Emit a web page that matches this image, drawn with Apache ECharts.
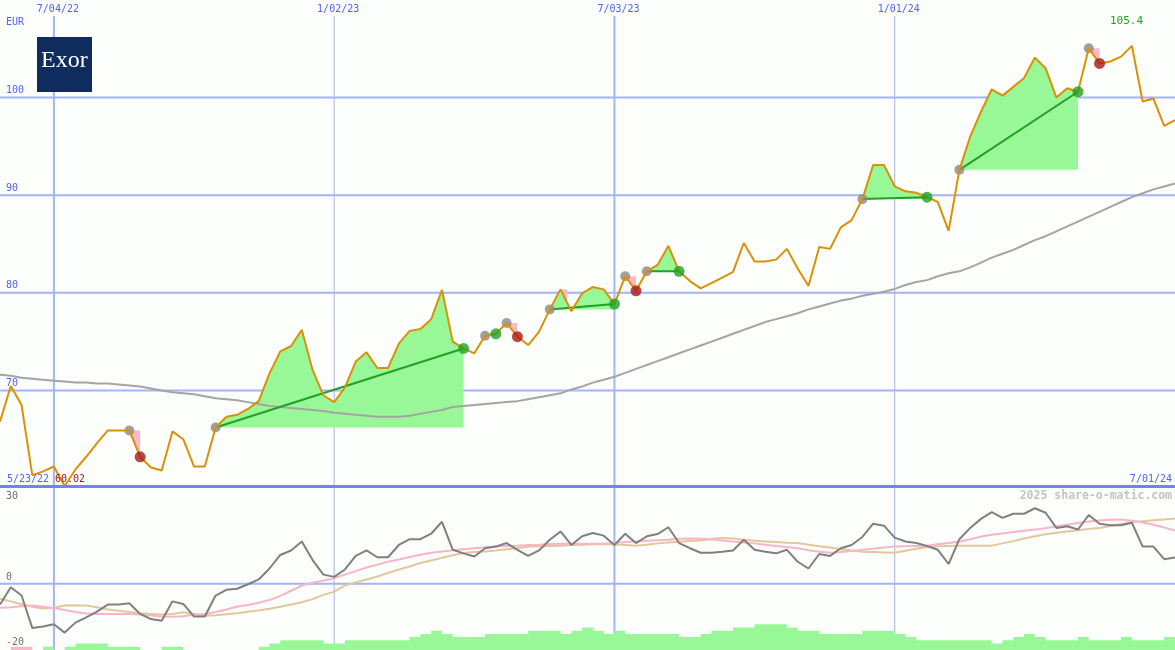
<!DOCTYPE html>
<html><head><meta charset="utf-8">
<script src="https://cdn.jsdelivr.net/npm/echarts@6/dist/echarts.min.js"></script>
<style>html,body{margin:0;padding:0;background:#fcfefc}#c{width:1175px;height:650px}</style>
</head><body><div id="c"></div>
<script>
// ---- data (weekly, week 0 = 5/30/22, week 109 = 7/01/24) ----
const weekFirst = 0, weekLast = 109;
const dateTickWeeks = [5, 31, 57, 83];
const dateTickLabels = ['7/04/22', '1/02/23', '7/03/23', '1/01/24'];
const dateTickMajor = [true, false, true, false];
const priceTicks = [70, 80, 90, 100];
const lowerTicks = [30, 0, -20];
const currency = 'EUR';
const startLabel = '5/23/22', endLabel = '7/01/24';
const lowLabel = '60.02', highLabel = '105.4';

const price = [66.8,70.45,68.5,61.3,61.7,62.2,60.2,61.9,63.2,64.6,
 65.9,65.9,65.9,63.2,62.1,61.8,65.8,65.0,62.2,62.2,
 66.2,67.3,67.5,68.1,68.9,71.75,74.0,74.55,76.2,72.1,
 69.5,68.8,70.3,72.95,73.9,72.3,72.3,74.8,76.1,76.3,
 77.3,80.3,75.0,74.3,73.8,75.6,75.8,76.9,75.5,74.65,
 76.0,78.3,80.35,78.1,79.95,80.6,80.35,78.85,81.7,80.2,
 82.2,82.85,84.8,82.2,81.2,80.45,81.0,81.55,82.15,85.1,
 83.2,83.2,83.4,84.5,82.5,80.7,84.7,84.5,86.7,87.45,
 89.6,93.1,93.1,90.9,90.4,90.25,89.8,89.3,86.35,92.6,
 96.0,98.55,100.85,100.2,101.1,102.0,104.1,103.0,100.0,100.95,
 100.6,105.05,103.5,103.7,104.2,105.3,99.6,99.9,97.1,97.7];

const ma200 = [71.6,71.5,71.3,71.2,71.1,71.0,70.9,70.8,70.8,70.7,
 70.7,70.6,70.5,70.4,70.2,70.0,69.8,69.7,69.6,69.4,
 69.2,69.1,69.0,68.8,68.6,68.4,68.3,68.2,68.1,68.0,
 67.9,67.7,67.6,67.5,67.4,67.3,67.3,67.3,67.4,67.6,
 67.8,68.0,68.3,68.4,68.5,68.6,68.7,68.8,68.9,69.1,
 69.3,69.5,69.7,70.1,70.4,70.8,71.1,71.4,71.8,72.2,
 72.6,73.0,73.4,73.8,74.2,74.6,75.0,75.4,75.8,76.2,
 76.6,77.0,77.3,77.6,77.9,78.3,78.6,78.9,79.2,79.4,
 79.7,79.9,80.1,80.4,80.8,81.1,81.3,81.7,82.0,82.2,
 82.6,83.1,83.6,84.0,84.4,84.9,85.4,85.8,86.3,86.8,
 87.3,87.8,88.3,88.8,89.3,89.8,90.2,90.6,90.9,91.2];

const momentum = [-6.5,-1.1,-3.7,-13.8,-13.3,-12.6,-15.2,-12.1,-10.5,-8.7,
 -6.5,-6.5,-6.1,-9.4,-11.0,-11.5,-5.5,-6.3,-10.2,-10.2,
 -3.7,-1.9,-1.6,-0.2,1.3,4.7,8.9,10.3,13.1,7.3,
 2.8,2.1,4.4,8.6,10.3,8.2,8.2,12.0,13.8,13.8,
 15.5,19.2,10.5,9.4,8.4,11.0,11.5,12.6,10.5,8.6,
 10.3,13.6,16.2,12.0,14.7,15.7,14.9,12.0,15.5,12.6,
 14.7,15.4,17.5,12.6,11.0,9.6,9.6,9.9,10.3,13.6,
 10.5,9.9,9.4,10.5,6.8,4.7,9.2,8.6,11.0,12.0,
 14.5,18.6,18.0,14.3,13.1,12.6,11.7,10.5,6.1,13.8,
 17.3,20.1,22.2,20.4,21.7,21.7,23.4,22.0,17.3,17.8,
 16.8,21.3,18.6,18.1,18.1,18.9,11.5,11.5,7.6,8.1];

const avgFast = [-7.5,-7.3,-7.0,-6.8,-7.2,-7.6,-8.2,-8.8,-9.3,-9.4,
 -9.4,-9.4,-9.4,-9.6,-9.9,-10.2,-10.3,-10.1,-9.6,-9.4,
 -8.8,-8.0,-7.1,-6.6,-5.9,-5.1,-3.8,-2.2,-0.6,0.3,
 1.0,1.7,2.8,3.9,5.0,5.9,6.8,7.5,8.3,9.0,
 9.6,10.0,10.4,10.7,11.0,11.3,11.5,11.7,11.8,12.0,
 12.1,12.3,12.4,12.4,12.4,12.4,12.4,12.6,12.9,13.1,
 13.3,13.5,13.6,13.9,14.0,13.9,13.7,13.4,13.1,12.8,
 12.5,12.1,11.7,11.4,11.0,10.4,9.9,9.6,9.8,10.1,
 10.5,10.8,11.2,11.5,11.6,11.7,11.8,12.2,12.6,13.1,
 13.8,14.6,15.2,15.6,16.0,16.4,16.8,17.2,17.8,18.3,
 18.8,19.3,19.6,19.8,19.9,19.5,19.0,18.3,17.4,16.5];

const avgSlow = [-4.7,-5.5,-6.4,-7.2,-7.7,-7.5,-6.8,-6.8,-6.8,-7.3,
 -8.0,-8.4,-8.8,-9.2,-9.4,-9.6,-9.4,-8.9,-9.4,-10.0,
 -9.8,-9.5,-9.2,-8.7,-8.3,-7.8,-7.2,-6.5,-5.8,-4.8,
 -3.5,-2.5,-0.6,0.4,1.3,2.2,3.3,4.4,5.3,6.4,
 7.2,8.0,8.8,9.5,9.8,10.0,10.3,10.7,11.0,11.5,
 11.6,11.7,11.8,12.0,12.1,12.2,12.3,12.2,12.0,11.8,
 12.1,12.5,12.8,13.0,13.2,13.4,13.9,14.2,14.0,13.6,
 13.3,13.1,12.9,12.7,12.6,12.1,11.6,11.2,10.7,10.3,
 9.9,9.8,9.7,9.6,10.2,10.8,11.4,11.6,11.7,11.8,
 11.8,11.8,11.8,12.5,13.2,14.0,14.7,15.3,15.8,16.2,
 16.6,17.0,17.3,17.9,18.5,19.1,19.4,19.7,19.9,20.2];

const barsUp = [0,0,0,0,1,0,1,2,2,2, 1,1,1,0,0,1,1,0,0,0,
 0,0,0,0,1,2,3,3,3,3, 2,2,3,3,3,3,3,3,4,5,
 6,5,4,4,4,5,5,5,5,6, 6,6,5,6,7,6,5,6,5,5,
 5,5,5,4,4,5,6,6,7,7, 8,8,8,7,6,6,5,5,5,5,
 6,6,6,5,4,3,3,3,3,3, 3,3,2,3,4,5,4,3,3,3,
 4,3,3,3,4,3,3,3,4,4];
const barsDown = [0,1,1,0,0,0,0,0,0,0, 0,0,0,0,0,0,0,0,0,0,
 0,0,0,0,0,0,0,0,0,0, 0,0,0,0,0,0,0,0,0,0,
 0,0,0,0,0,0,0,0,0,0, 0,0,0,0,0,0,0,0,0,0,
 0,0,0,0,0,0,0,0,0,0, 0,0,0,0,0,0,0,0,0,0,
 0,0,0,0,0,0,0,0,0,0, 0,0,0,0,0,0,0,0,0,0,
 0,0,0,0,0,0,0,0,0,0];

const tradeEntry = [12, 20, 45, 47, 51, 58, 60, 80, 89, 101];
const tradeExit  = [13, 43, 46, 48, 57, 59, 63, 86, 100, 102];
const tradeWin   = [false, true, true, false, true, false, true, true, true, false];
// intermediate drawdown warnings inside a trade: peak week and length (weeks)
const dropPeak = [52];
const dropSpan = [0.6];

// ---- styles ----
const C = {
  bg:'#fcfefc', grid:'#a4b4f4', gridMinor:'#aab2e4', border:'#7282f0', label:'#5262f0',
  price:'#dc9008', ma:'#a4a4a4', fill:'#98f898', pink:'#f8b8c8', win:'#22a022',
  loss:'#a81818', entry:'#888888', mom:'#808080', fast:'#f8b4c8', slow:'#e2c898',
  lowerLabel:'#707070', mark:'#c4c4c4'
};
const MONO = '"DejaVu Sans Mono", monospace';
const idx = a => a.map((_, i) => i);
const pairs = a => a.map((v, i) => [i, v]);
const priceAt = x => { const i = Math.floor(x), t = x - i; return price[i] + (price[i + 1] - price[i]) * t; };

const option = {
  animation: false,
  backgroundColor: C.bg,
  grid: [
    {left: 0, right: 0, top: -1, height: 489},
    {left: 0, right: 0, top: 487, height: 163}
  ],
  xAxis: [
    {type: 'value', gridIndex: 0, min: weekFirst, max: weekLast, show: false},
    {type: 'value', gridIndex: 1, min: weekFirst, max: weekLast, show: false}
  ],
  yAxis: [
    {type: 'value', gridIndex: 0, min: 60, max: 110, show: false},
    {type: 'value', gridIndex: 1, min: -20.6, max: 30, show: false},
    {type: 'value', gridIndex: 1, min: 0, max: 50.6, show: false}
  ],
  series: [
    { // horizontal price grid + labels
      type: 'custom', xAxisIndex: 0, yAxisIndex: 0, z: 0, silent: true, clip: false,
      data: idx(priceTicks),
      renderItem(params, api) {
        const v = priceTicks[params.dataIndex];
        const a = api.coord([weekFirst, v]), b = api.coord([weekLast, v]);
        return {type: 'group', children: [
          {type: 'line', shape: {x1: a[0], y1: a[1], x2: b[0], y2: b[1]}, style: {stroke: C.grid, lineWidth: 2}},
          {type: 'text', x: 6, y: a[1] - 2, style: {text: String(v), fill: C.label, font: '10px ' + MONO, align: 'left', verticalAlign: 'bottom'}}
        ]};
      }
    },
    { // vertical date grid (upper)
      type: 'custom', xAxisIndex: 0, yAxisIndex: 0, z: 0, silent: true, clip: false,
      data: idx(dateTickWeeks),
      renderItem(params, api) {
        const i = params.dataIndex, w = dateTickWeeks[i];
        const bot = api.coord([w, 60]);
        return {type: 'group', children: [
          {type: 'line', shape: {x1: bot[0], y1: 16, x2: bot[0], y2: bot[1]},
           style: {stroke: dateTickMajor[i] ? C.grid : C.gridMinor, lineWidth: dateTickMajor[i] ? 2 : 1}},
          {type: 'text', x: bot[0] + 4, y: 9, style: {text: dateTickLabels[i], fill: C.label, font: '10px ' + MONO, align: 'center', verticalAlign: 'middle'}}
        ]};
      }
    },
    { // vertical date grid (lower)
      type: 'custom', xAxisIndex: 1, yAxisIndex: 1, z: 0, silent: true, clip: false,
      data: idx(dateTickWeeks),
      renderItem(params, api) {
        const i = params.dataIndex, w = dateTickWeeks[i];
        const t = api.coord([w, 30]), b = api.coord([w, -20.6]);
        return {type: 'line', shape: {x1: t[0], y1: t[1], x2: b[0], y2: b[1]},
          style: {stroke: dateTickMajor[i] ? C.grid : C.gridMinor, lineWidth: dateTickMajor[i] ? 2 : 1}};
      }
    },
    { // lower zero line + labels
      type: 'custom', xAxisIndex: 1, yAxisIndex: 1, z: 0, silent: true, clip: false,
      data: idx(lowerTicks),
      renderItem(params, api) {
        const v = lowerTicks[params.dataIndex];
        const a = api.coord([weekFirst, v]), b = api.coord([weekLast, v]);
        const ch = [];
        if (v === 0) ch.push({type: 'line', shape: {x1: a[0], y1: a[1], x2: b[0], y2: b[1]}, style: {stroke: C.grid, lineWidth: 2}});
        const ty = Math.max(a[1] - 1, 501);
        ch.push({type: 'text', x: 6, y: ty, style: {text: String(v), fill: C.lowerLabel, font: '10px ' + MONO, align: 'left', verticalAlign: 'bottom'}});
        return {type: 'group', children: ch};
      }
    },
    { // border between panels
      type: 'custom', xAxisIndex: 0, yAxisIndex: 0, z: 6, silent: true, clip: false,
      data: [0],
      renderItem(params, api) {
        const a = api.coord([weekFirst, 60]), b = api.coord([weekLast, 60]);
        return {type: 'line', shape: {x1: a[0], y1: a[1] - 1.5, x2: b[0], y2: b[1] - 1.5}, style: {stroke: C.border, lineWidth: 3}};
      }
    },
    { // trade fills
      type: 'custom', xAxisIndex: 0, yAxisIndex: 0, z: 1, silent: true,
      data: idx(tradeEntry),
      renderItem(params, api) {
        const k = params.dataIndex, a = tradeEntry[k], b = tradeExit[k];
        const base = price[a];
        const pts = [api.coord([a, base])];
        for (let w = a; w < b; w++) {
          const p0 = price[w], p1 = price[w + 1];
          pts.push(api.coord([w, Math.max(p0, base)]));
          if ((p0 - base) * (p1 - base) < 0) {
            const t = (base - p0) / (p1 - p0);
            pts.push(api.coord([w + t, base]));
          }
        }
        pts.push(api.coord([b, Math.max(price[b], base)]));
        pts.push(api.coord([b, base]));
        const ch = [{type: 'polygon', shape: {points: pts}, style: {fill: C.fill}}];
        if (!tradeWin[k]) {
          ch.push({type: 'polygon', shape: {points: [api.coord([a, base]), api.coord([b, base]), api.coord([b, price[b]])]}, style: {fill: C.pink}});
        }
        return {type: 'group', children: ch};
      }
    },
    { // drawdown warnings
      type: 'custom', xAxisIndex: 0, yAxisIndex: 0, z: 1, silent: true,
      data: idx(dropPeak),
      renderItem(params, api) {
        const k = params.dataIndex, a = dropPeak[k], b = a + dropSpan[k];
        const top = price[a];
        return {type: 'polygon', shape: {points: [api.coord([a, top]), api.coord([b, top]), api.coord([b, priceAt(b)])]}, style: {fill: C.pink}};
      }
    },
    {
      type: 'line', xAxisIndex: 0, yAxisIndex: 0, z: 2, silent: true,
      data: pairs(ma200), symbol: 'none', lineStyle: {color: C.ma, width: 2}
    },
    { // winning trade lines
      type: 'custom', xAxisIndex: 0, yAxisIndex: 0, z: 3, silent: true,
      data: idx(tradeEntry),
      renderItem(params, api) {
        const k = params.dataIndex;
        if (!tradeWin[k]) return null;
        const a = api.coord([tradeEntry[k], price[tradeEntry[k]]]), b = api.coord([tradeExit[k], price[tradeExit[k]]]);
        return {type: 'line', shape: {x1: a[0], y1: a[1], x2: b[0], y2: b[1]}, style: {stroke: C.win, lineWidth: 2}};
      }
    },
    {
      type: 'scatter', xAxisIndex: 0, yAxisIndex: 0, z: 3, silent: true,
      data: tradeEntry.map(w => [w, price[w]]), symbol: 'circle', symbolSize: 10,
      itemStyle: {color: C.entry}
    },
    {
      type: 'line', xAxisIndex: 0, yAxisIndex: 0, z: 4, silent: true,
      data: pairs(price), symbol: 'none', lineStyle: {color: C.price, width: 2}
    },
    {
      type: 'scatter', xAxisIndex: 0, yAxisIndex: 0, z: 5, silent: true,
      data: tradeExit.map((w, k) => ({value: [w, price[w]], itemStyle: {color: tradeWin[k] ? C.win : C.loss}})),
      symbol: 'circle', symbolSize: 11
    },
    // lower panel
    {
      type: 'line', xAxisIndex: 1, yAxisIndex: 2, z: 1, silent: true, step: 'end',
      data: pairs(barsUp), symbol: 'none', lineStyle: {width: 0, opacity: 0},
      areaStyle: {color: C.fill, opacity: 1}
    },
    {
      type: 'line', xAxisIndex: 1, yAxisIndex: 2, z: 1, silent: true, step: 'end',
      data: pairs(barsDown), symbol: 'none', lineStyle: {width: 0, opacity: 0},
      areaStyle: {color: C.pink, opacity: 1}
    },
    {
      type: 'line', xAxisIndex: 1, yAxisIndex: 1, z: 2, silent: true,
      data: pairs(avgSlow), symbol: 'none', lineStyle: {color: C.slow, width: 2}
    },
    {
      type: 'line', xAxisIndex: 1, yAxisIndex: 1, z: 2, silent: true,
      data: pairs(avgFast), symbol: 'none', lineStyle: {color: C.fast, width: 2}
    },
    {
      type: 'line', xAxisIndex: 1, yAxisIndex: 1, z: 3, silent: true,
      data: pairs(momentum), symbol: 'none', lineStyle: {color: C.mom, width: 2}
    }
  ],
  graphic: [
    {type: 'text', left: 6, top: 17, z: 10, style: {text: currency, fill: C.label, font: '10px ' + MONO}},
    {type: 'rect', left: 37, top: 37, z: 10, shape: {width: 55, height: 55}, style: {fill: '#0e2c5e'}},
    {type: 'text', left: 41, top: 49, z: 11, style: {text: 'Exor', fill: '#ffffff', font: '24px "Liberation Serif", serif'}},
    {type: 'text', left: 7, top: 474, z: 10, style: {text: startLabel, fill: C.label, font: '10px ' + MONO}},
    {type: 'text', left: 55, top: 474, z: 10, style: {text: lowLabel, fill: C.loss, font: '10px ' + MONO}},
    {type: 'text', right: 3, top: 474, z: 10, style: {text: endLabel, fill: C.label, font: '10px ' + MONO}},
    {type: 'text', left: 1110, top: 16, z: 10, style: {text: highLabel, fill: C.win, font: '11px ' + MONO}},
    {type: 'text', right: 3, top: 490, z: 10, style: {text: '2025 share-o-matic.com', fill: C.mark, font: 'bold 11.5px ' + MONO}}
  ]
};
echarts.init(document.getElementById('c')).setOption(option);
</script>
</body></html>
